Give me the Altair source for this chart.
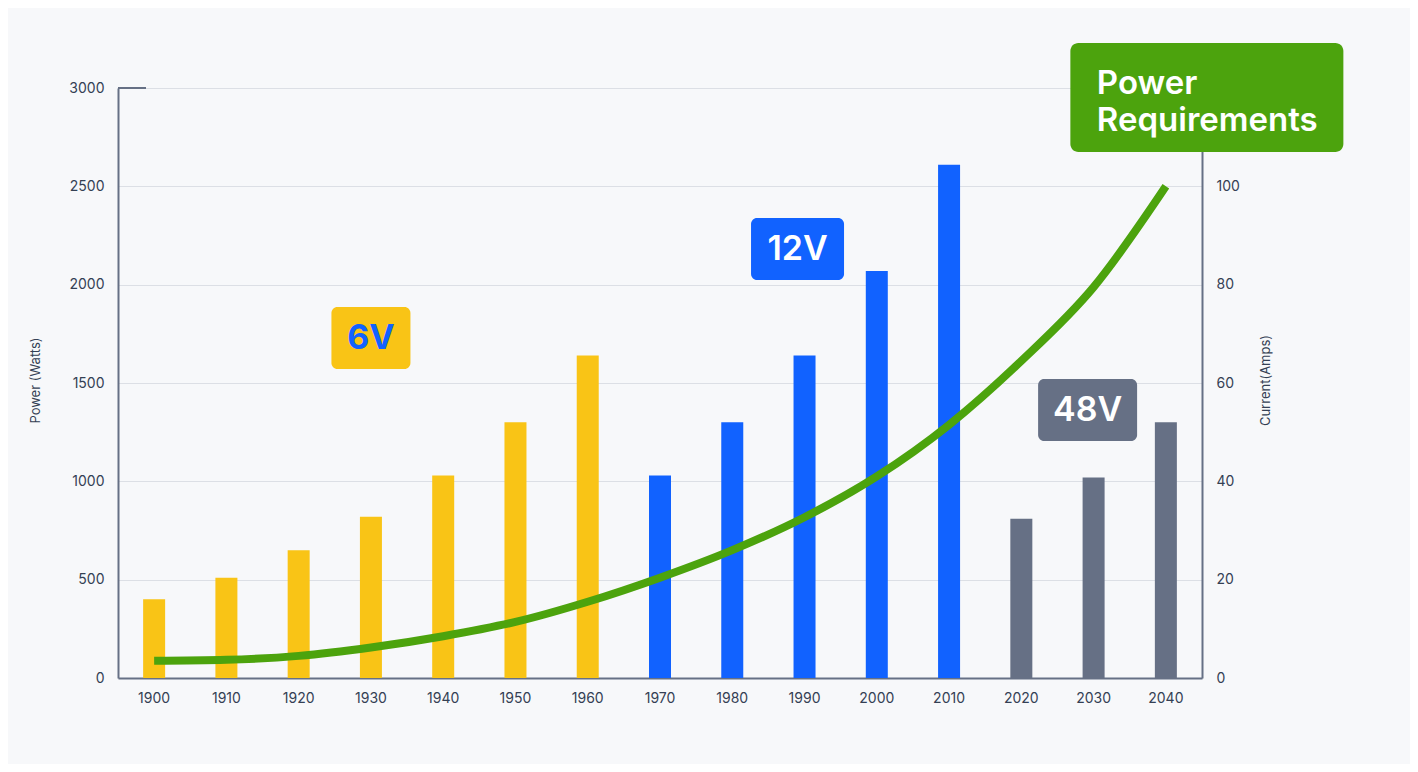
import altair as alt
import pandas as pd

# ---- data ----
years = [1900, 1910, 1920, 1930, 1940, 1950, 1960, 1970, 1980, 1990, 2000, 2010, 2020, 2030, 2040]
watts = [400, 510, 650, 820, 1030, 1300, 1640, 1030, 1300, 1640, 2070, 2610, 810, 1020, 1300]
voltage = ["6V"] * 7 + ["12V"] * 5 + ["48V"] * 3
amps = [3.5, 3.7, 4.5, 6.2, 8.5, 11.4, 15.5, 20.4, 26.0, 32.7, 41.0, 51.5, 64.5, 79.5, 100.0]

volt_names = ["6V", "12V", "48V"]
watt_ticks = [0, 500, 1000, 1500, 2000, 2500, 3000]
amp_ticks = [0, 20, 40, 60, 80, 100]

label_text = ["6V", "12V", "48V", "Power\nRequirements"]
label_year = [1930, 1990, 2030, 2040]
label_watts = [1729, 2181, 1363, 2952]

# ---- style ----
FONT = "Inter"
YELLOW = "#F9C416"
BLUE = "#1162FF"
GRAY = "#667085"
GREEN = "#4CA30D"
AXIS = "#667085"
LABEL = "#344054"
GRID = "#DCDFE5"
BG = "#F7F8FA"

df = pd.DataFrame({"year": years, "watts": watts, "volt": voltage, "amps": amps})

x_enc = alt.X(
    "year:O",
    scale=alt.Scale(paddingInner=0, paddingOuter=0),
    axis=alt.Axis(
        title=None, labelAngle=0, ticks=False, labelPadding=13, labelFontSize=14,
        labelFont=FONT, labelColor=LABEL, domainColor=AXIS, domainWidth=2, grid=False,
    ),
)

bars = alt.Chart(df).mark_bar(size=22).encode(
    x=x_enc,
    y=alt.Y(
        "watts:Q",
        scale=alt.Scale(domain=[0, 3000], nice=False),
        axis=alt.Axis(
            values=watt_ticks, format="d", title="Power (Watts)", ticks=False, labelPadding=14,
            labelFontSize=14, labelFont=FONT, labelColor=LABEL, domainColor=AXIS,
            domainWidth=2, gridColor=GRID, gridWidth=1, titleFont=FONT, titleFontSize=13,
            titleFontWeight="normal", titleColor=LABEL, titleX=-83, titleY=292,
            titleAngle=270, titleAlign="center", titleBaseline="middle",
        ),
    ),
    color=alt.Color("volt:N", scale=alt.Scale(domain=volt_names, range=[YELLOW, BLUE, GRAY]), legend=None),
)

top_tick = alt.Chart(pd.DataFrame({"v": [3000]})).mark_rule(color=AXIS, strokeWidth=2).encode(
    y=alt.Y("v:Q", scale=alt.Scale(domain=[0, 3000], nice=False), axis=None),
    x=alt.value(0),
    x2=alt.value(28),
)

line = alt.Chart(df).mark_line(strokeWidth=8, color=GREEN, interpolate="monotone", strokeCap="butt").encode(
    x=alt.X("year:O"),
    y=alt.Y(
        "amps:Q",
        scale=alt.Scale(domain=[0, 120], nice=False),
        axis=alt.Axis(
            orient="right", values=amp_ticks, title="Current(Amps)", grid=False, ticks=False,
            labelPadding=14, labelFontSize=14, labelFont=FONT, labelColor=LABEL,
            domainColor=AXIS, domainWidth=2, titleFont=FONT, titleFontSize=13,
            titleFontWeight="normal", titleColor=LABEL, titleX=63, titleY=292,
            titleAngle=270, titleAlign="center", titleBaseline="middle", zindex=0,
        ),
    ),
)

box_style = [
    dict(w=79, h=62, fill=YELLOW, txt=BLUE, size=34, dx=0, tdx=0, dy=1, align="center", r=6, wt=700),
    dict(w=93, h=62, fill=BLUE, txt="white", size=34, dx=-7, tdx=-7, dy=1, align="center", r=6, wt=600),
    dict(w=99, h=62, fill=GRAY, txt="white", size=34, dx=-6, tdx=-6, dy=1, align="center", r=6, wt=600),
    dict(w=273, h=109, fill=GREEN, txt="white", size=33, dx=41, tdx=-69, dy=-13, align="left", r=8, wt=600),
]

layers = [bars, top_tick, line]
for i, st in enumerate(box_style):
    d = pd.DataFrame({"year": [label_year[i]], "watts": [label_watts[i]], "label": [label_text[i]]})
    base = alt.Chart(d)
    ypos = alt.Y("watts:Q", scale=alt.Scale(domain=[0, 3000], nice=False), axis=None)
    rect = base.mark_rect(width=st["w"], height=st["h"], cornerRadius=st["r"], color=st["fill"], xOffset=st["dx"]).encode(
        x=alt.X("year:O"), y=ypos
    )
    txt = base.mark_text(
        font=FONT, fontSize=st["size"], fontWeight=st["wt"], color=st["txt"], align=st["align"],
        baseline="middle", dx=st["tdx"], dy=st["dy"], lineBreak="\n", lineHeight=37,
    ).encode(x=alt.X("year:O"), y=ypos, text="label:N")
    layers += [rect, txt]

chart = (
    alt.layer(*layers)
    .resolve_scale(y="independent")
    .properties(
        width=1084, height=590,
        padding={"left": 110, "top": 80, "right": 208, "bottom": 86},
        autosize=alt.AutoSizeParams(type="none"),
        background=BG,
    )
    .configure_view(stroke=None)
)

chart.save("out.html", embed_options={"renderer": "svg", "actions": False})
